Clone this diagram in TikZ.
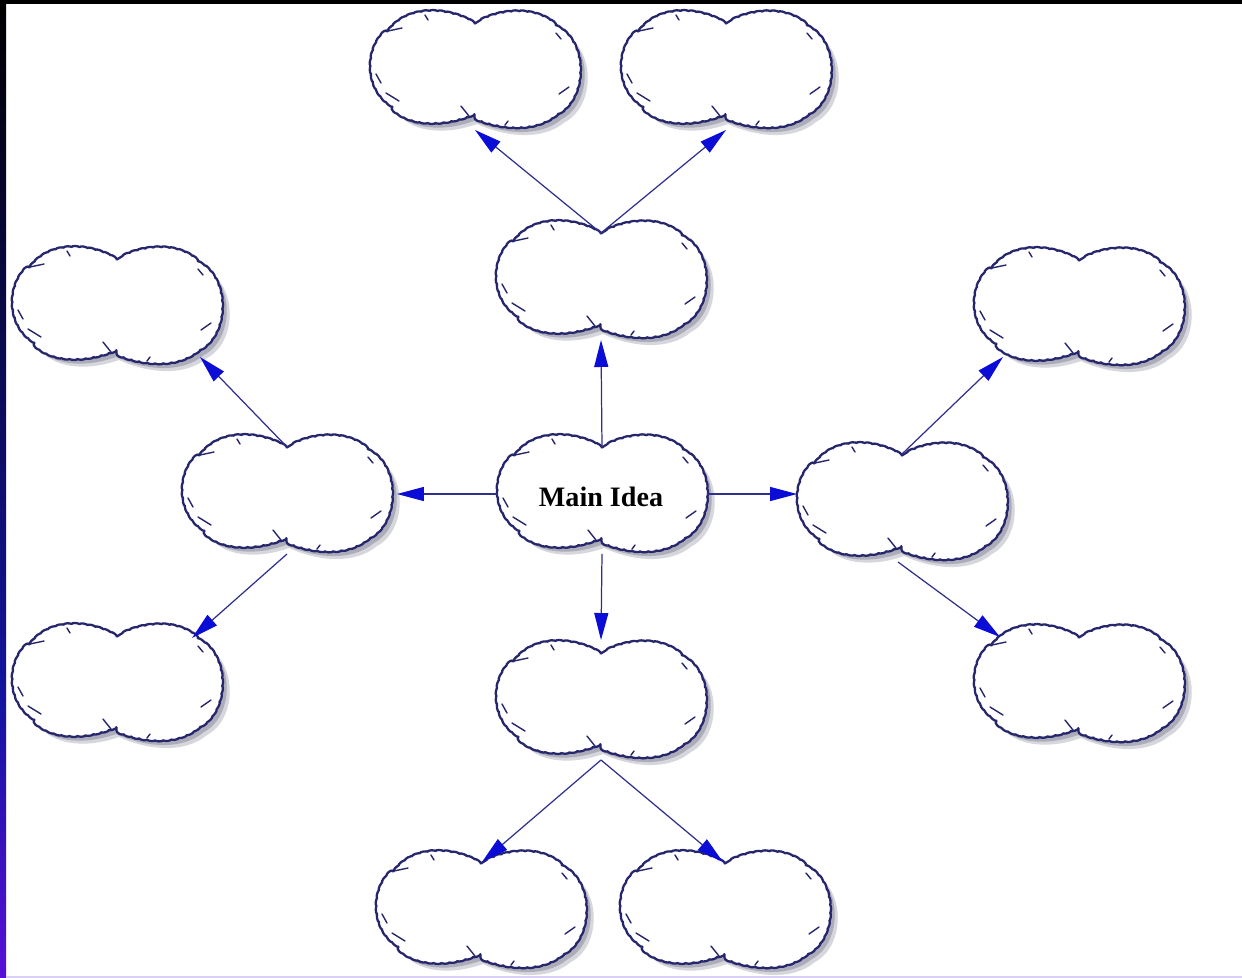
\documentclass[tikz,border=0pt]{standalone}
\usepackage{fontspec}
\setmainfont{Liberation Serif}
\usetikzlibrary{arrows.meta,calc,decorations.pathmorphing}
\definecolor{cloudline}{RGB}{38,38,108}
\definecolor{arrline}{RGB}{48,48,140}
\definecolor{arrhead}{RGB}{12,12,215}
\definecolor{shadowgray}{RGB}{140,140,158}
\definecolor{barblue}{RGB}{20,20,160}
\definecolor{barviolet}{RGB}{88,16,215}
\definecolor{bottomline}{RGB}{218,208,245}
\tikzset{
  x=0.02cm, y=-0.02cm,
  cloudshape/.style={insert path={
    (0,-46) .. controls (-16,-58) and (-58,-68) .. (-82,-44)
    .. controls (-108,-30) and (-112,12) .. (-88,32)
    .. controls (-74,54) and (-40,58) .. (-6,46)
    .. controls (20,58) and (58,64) .. (82,44)
    .. controls (112,28) and (112,-26) .. (84,-42)
    .. controls (60,-68) and (16,-58) .. (0,-46) -- cycle}},
  crinkle/.style={decorate, decoration={bumps, segment length=0.32cm, amplitude=-0.025cm}},
  pics/cloud/.style={code={
    \fill[shadowgray, opacity=0.35, shift={(8,8)}, cloudshape];
    \fill[shadowgray, opacity=0.55, shift={(5,5)}, cloudshape];
    \filldraw[fill=white, draw=cloudline, line width=1.3pt, line join=round, crinkle, cloudshape];
    \draw[cloudline, line width=0.8pt, line cap=round]
      (-87,-39) -- (-73,-42)
      (-99,4) -- (-94,13)
      (-89,23) -- (-76,31)
      (-14,36) -- (-6,46)
      (84,24) -- (94,17)
      (81,-37) -- (86,-31)
      (-50,-55) -- (-47,-50)
      (30,55) -- (33,51);
  }},
  cnode/.style={minimum width=4.2cm, minimum height=2.4cm, inner sep=0pt, outer sep=0pt},
  arr/.style={draw=arrline, line width=0.7pt,
    -{Triangle[length=0.54cm, width=0.28cm, color=arrhead]}},
  maintext/.style={font=\bfseries\fontsize{16}{18}\selectfont, text=black}
}
\begin{document}
\begin{tikzpicture}
% background and frame
\useasboundingbox (0,0) rectangle (1242,978);
\fill[white] (0,0) rectangle (1242,978);
\fill[black] (0,0) rectangle (1242,3.5);
\shade[top color=black, bottom color=barblue] (0,0) rectangle (6,700);
\shade[top color=barblue, bottom color=barviolet] (0,700) rectangle (6,978);
\fill[bottomline] (6,975.5) rectangle (1242,978);

% clouds and nodes
\foreach \n/\x/\y in {c/602/494, tm/601/280, tl/475/70, tr/726/70,
    lm/287/494, ul/117/306, ll/117/683,
    rm/902/502, ur/1079/307, lr/1079/684,
    bm/601/700, bl/481/910, br/725/910} {
  \pic at (\x,\y) {cloud};
  \node[cnode] (\n) at (\x,\y) {};
}
\node[maintext] (mt) at (601,497) {Main Idea};

% connectors
\draw[arr] ($(c)+(0,-47)$) -- (tm.south);
\draw[arr] (c.west) -- ($(lm.east)+(5,0)$);
\draw[arr] (c.east) -- (rm.west |- c.east);
\draw[arr] (c.south) -- (bm.north);

\draw[arr] ($(tm)+(0,-47)$) -- (tl.south);
\draw[arr] ($(tm)+(0,-47)$) -- (tr.south);

\draw[arr] ($(lm)+(0,-47)$) -- ($(ul)+(83,51)$);
\draw[arr] (lm.south) -- ($(ll)+(75,-45)$);

\draw[arr] ($(rm)+(0,-48)$) -- ($(ur)+(-76,50)$);
\draw[arr] ($(rm.south)+(-4,0)$) -- ($(lr)+(-79,-47)$);

\draw[arr] (bm.south) -- ($(bl)+(1,-48)$);
\draw[arr] (bm.south) -- ($(br)+(-2,-48)$);
\end{tikzpicture}
\end{document}
